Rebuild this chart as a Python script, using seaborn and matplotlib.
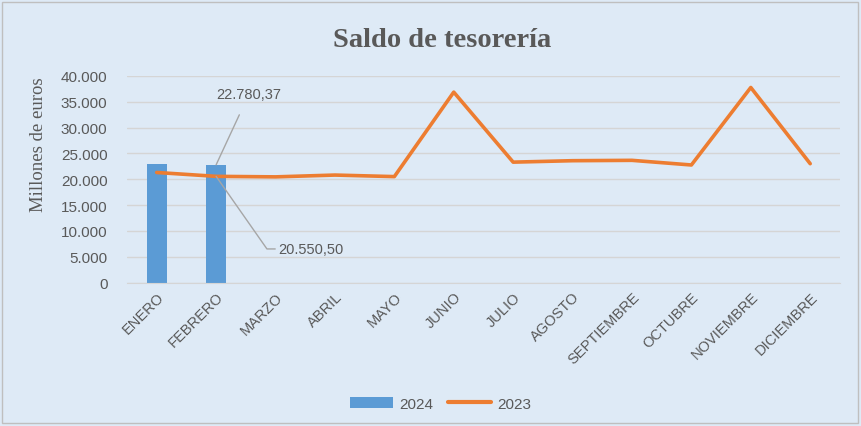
import numpy as np
import pandas as pd
import matplotlib
matplotlib.use("Agg")
import matplotlib.pyplot as plt
import seaborn as sns
from matplotlib.patches import Rectangle, Patch
from matplotlib.lines import Line2D

# Data
months = ["ENERO", "FEBRERO", "MARZO", "ABRIL", "MAYO", "JUNIO", "JULIO",
          "AGOSTO", "SEPTIEMBRE", "OCTUBRE", "NOVIEMBRE", "DICIEMBRE"]
saldo_2024 = [23000, 22780.37]
saldo_2023 = [21300, 20550.50, 20450, 20800, 20500, 36850, 23300,
              23580, 23650, 22750, 37750, 23000]
yticks = [0, 5000, 10000, 15000, 20000, 25000, 30000, 35000, 40000]
ytick_labels = ["0", "5.000", "10.000", "15.000", "20.000", "25.000",
                "30.000", "35.000", "40.000"]

bg = "#DEEAF6"
blue = "#5B9BD5"
orange = "#ED7D31"
grey_txt = "#595959"
grid_c = "#D5D5D5"

df24 = pd.DataFrame({"mes": months[:len(saldo_2024)], "valor": saldo_2024})
df23 = pd.DataFrame({"mes": months, "valor": saldo_2023})
df23["pos"] = np.arange(len(months))

sns.set_style("white")
plt.rcParams["font.family"] = ["Liberation Sans", "DejaVu Sans"]

fig = plt.figure(figsize=(8.61, 4.27), dpi=100)
fig.patch.set_facecolor(bg)
ax = fig.add_axes([0.1475, 0.336, 0.828, 0.484])
ax.set_facecolor(bg)

# bars 2024
sns.barplot(data=df24, x="mes", y="valor", order=months, color=blue,
            width=0.34, saturation=1, linewidth=0, ax=ax, zorder=2)
# line 2023
sns.lineplot(data=df23, x="pos", y="valor", color=orange, linewidth=2.6,
             ax=ax, zorder=3)

ax.set_xlim(-0.5, len(months) - 0.5)
ax.set_ylim(0, 40000)
ax.set_yticks(yticks)
ax.set_yticklabels(ytick_labels, fontsize=11, color=grey_txt)
ax.set_xticks(np.arange(len(months)))
ax.set_xticklabels(months, rotation=45, ha="right", rotation_mode="anchor",
                   fontsize=10.5, color=grey_txt)
ax.tick_params(axis="both", length=0)
ax.tick_params(axis="y", pad=14)
ax.tick_params(axis="x", pad=5)
ax.grid(axis="y", color=grid_c, linewidth=1)
ax.set_axisbelow(True)
for s in ["top", "right", "left"]:
    ax.spines[s].set_visible(False)
ax.spines["bottom"].set_color(grid_c)
ax.set_xlabel("")
ax.set_ylabel("Millones de euros", family=["Liberation Serif"], fontsize=13.5,
              color=grey_txt)
ax.yaxis.set_label_coords(-0.112, 0.67)

# data labels with leader lines
ax.annotate("22.780,37", xy=(1, saldo_2024[1]), xytext=(1.55, 36400),
            fontsize=10.5, color=grey_txt, ha="center", va="center",
            arrowprops=dict(arrowstyle="-", color="#A6A6A6", lw=1,
                            shrinkA=8, shrinkB=0))
ax.annotate("20.550,50", xy=(1, saldo_2023[1]), xytext=(2.05, 6500),
            fontsize=10.5, color=grey_txt, ha="left", va="center",
            arrowprops=dict(arrowstyle="-", color="#A6A6A6", lw=1,
                            shrinkA=0, shrinkB=0,
                            connectionstyle="angle,angleA=0,angleB=-55,rad=0"))

fig.suptitle("Saldo de tesorería", x=0.514, y=0.935, fontsize=20.5,
             fontweight="bold", family=["Liberation Serif"], color=grey_txt)

handles = [Patch(facecolor=blue, edgecolor="none"),
           Line2D([0], [0], color=orange, linewidth=3)]
fig.legend(handles, ["2024", "2023"], loc="center", bbox_to_anchor=(0.512, 0.052),
           ncol=2, frameon=False, fontsize=11, labelcolor=grey_txt,
           handlelength=2.8, handleheight=0.8, columnspacing=1.0, handletextpad=0.4)

fig.add_artist(Rectangle((0.002, 0.006), 0.994, 0.988, transform=fig.transFigure,
                         fill=False, edgecolor="#BFBFBF", linewidth=1))

fig.savefig("out.png", dpi=100, facecolor=bg)
